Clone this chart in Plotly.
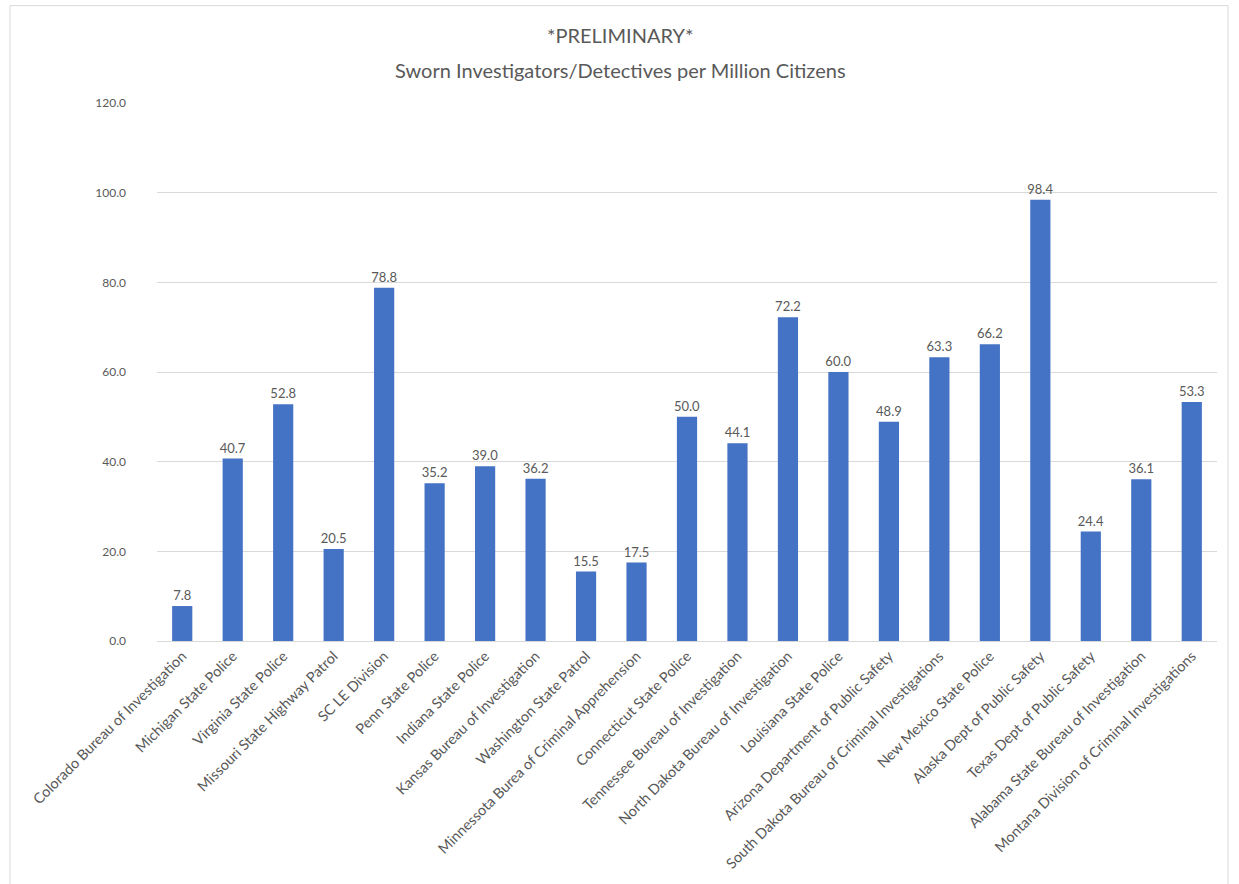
import plotly.graph_objects as go

categories = [
    "Colorado Bureau of Investigation", "Michigan State Police", "Virginia State Police",
    "Missouri State Highway Patrol", "SC LE Division", "Penn State Police",
    "Indiana State Police", "Kansas Bureau of Investigation", "Washington State Patrol",
    "Minnessota Burea of Criminal Apprehension", "Connecticut State Police",
    "Tennessee Bureau of Investigation", "North Dakota Bureau of Investigation",
    "Louisiana State Police", "Arizona Department of Public Safety",
    "South Dakota Bureau of Criminal Investigations", "New Mexico State Police",
    "Alaska Dept of Public Safety", "Texas Dept of Public Safety",
    "Alabama State Bureau of Investigation", "Montana Division of Criminal Investigations",
]
values = [7.8, 40.7, 52.8, 20.5, 78.8, 35.2, 39.0, 36.2, 15.5, 17.5, 50.0,
          44.1, 72.2, 60.0, 48.9, 63.3, 66.2, 98.4, 24.4, 36.1, 53.3]
y_ticks = [0, 20, 40, 60, 80, 100, 120]
title_lines = ["*PRELIMINARY*", "Sworn Investigators/Detectives per Million Citizens"]

font_family = "Lato, 'Open Sans', sans-serif"
gray = "#595959"

fig = go.Figure(go.Bar(
    x=categories, y=values,
    marker=dict(color="#4472C4", line=dict(width=0)),
    text=[f"{v:.1f}" for v in values],
    textposition="outside",
    constraintext="none",
    textfont=dict(size=13, color=gray, family=font_family),
    cliponaxis=False,
))

fig.update_layout(
    width=1239, height=884,
    margin=dict(l=157, r=22, t=103, b=240),
    paper_bgcolor="white", plot_bgcolor="white",
    bargap=0.6,
    showlegend=False,
    font=dict(family=font_family, color=gray),
    annotations=[
        dict(text=title_lines[0], xref="paper", yref="paper", x=0.4368, y=1.1257,
             xanchor="center", yanchor="middle", showarrow=False,
             font=dict(size=20, color=gray, family=font_family)),
        dict(text=title_lines[1], xref="paper", yref="paper", x=0.4368, y=1.061,
             xanchor="center", yanchor="middle", showarrow=False,
             font=dict(size=20, color=gray, family=font_family)),
    ],
    shapes=[dict(type="rect", xref="paper", yref="paper",
                 x0=-0.1387, x1=1.0104, y0=-0.46, y1=1.181,
                 line=dict(color="#d9d9d9", width=1), fillcolor="rgba(0,0,0,0)",
                 layer="below")],
)
fig.update_xaxes(
    tickangle=-45, tickfont=dict(size=14.5, color=gray, family=font_family),
    showline=True, linecolor="#d9d9d9", linewidth=1, ticks="",
    showgrid=False,
)
fig.update_yaxes(
    range=[0, 120], tickvals=y_ticks, ticktext=[f"{v:.1f}" for v in y_ticks],
    tickfont=dict(size=12, color=gray, family=font_family),
    showgrid=True, gridcolor="#d9d9d9", gridwidth=1, zeroline=False,
    ticks="", ticklabelstandoff=30,
)

fig.write_html("out.html")
